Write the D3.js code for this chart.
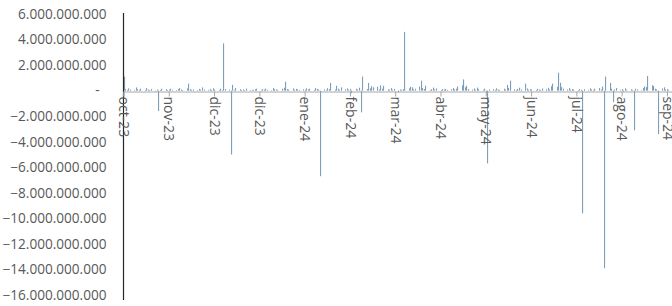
<!DOCTYPE html>
<html>
<head>
<meta charset="utf-8">
<script src="https://cdn.jsdelivr.net/npm/d3@7"></script>
<style>
  body { margin: 0; background: #fff; }
  svg text { font-family: "Open Sans", "Liberation Sans", sans-serif; }
</style>
</head>
<body>
<svg id="chart" width="672" height="306"></svg>
<script>
// daily net flow, millions, one value per business day
var oct23 = [1100, 120, 60, 180, 90, 40, 250, 110, 70, 150, 30, 200, 80, 60, 130, -40, 90, -1600, 60, 150, 110, 40];
var nov23 = [80, 150, 60, 30, 120, 200, 90, 40, 170, 550, 110, 60, 90, 30, 140, 70, 250, 80, 60, 120, 40, 180];
var dic23 = [90, 60, 150, 40, 3700, 120, 80, -5000, 450, 60, 200, 110, 50, 90, 30, 160, 20, 70, 40, 110, 150];
var ene24 = [30, 120, 80, 160, 60, 40, 200, 110, 90, 60, 150, 230, 700, 120, 80, 170, 60, 140, 90, 50, 110, 60, 180];
var feb24 = [90, 150, 60, 210, 130, 80, -6700, 100, 60, 190, 120, 600, 80, 380, 150, 70, 260, 110, 180, 60, 140];
var mar24 = [-200, 150, 80, 230, -1700, 1100, 120, 600, 180, 350, 260, 300, 90, 420, 150, 380, 110, 70, 200, 60, 130];
var abr24 = [-150, 90, 60, 120, 4600, 180, 300, 260, 90, 150, 320, 780, 200, 130, 380, 60, 110, 240, 90, 170, 50, 120];
var may24 = [80, 140, 60, 110, 200, 90, 150, 330, 420, 880, 260, 390, 120, 80, 170, 60, 240, 110, 70, 150, -80, -5700, 90];
var jun24 = [120, 60, 180, 90, 40, 150, 80, 450, 200, 780, 110, 60, 140, 230, 90, 550, 170, 60, 120, 80];
var jul24 = [60, 140, 90, 30, 170, 110, 220, 80, 350, 550, 300, 1400, 620, 280, 150, 90, 200, 60, 130, 80, 50, 110, 70];
var ago24 = [-9600, 120, 60, 180, 90, 40, 150, 200, 80, 320, -13900, 1100, 600, 150, -900, 90, 210, 60, 130, -80, 180, 70];
var sep24 = [110, 60, -3100, 150, 90, 40, 200, 330, 280, 1150, 420, 360, 150, 90, -3400, 170, 260, 80, 120, 60, 140];

var monthStarts = ["2023-10-01","2023-11-01","2023-12-01","2024-01-01","2024-02-01","2024-03-01",
                   "2024-04-01","2024-05-01","2024-06-01","2024-07-01","2024-08-01","2024-09-01"];
var monthValues = [oct23, nov23, dic23, ene24, feb24, mar24, abr24, may24, jun24, jul24, ago24, sep24];

var yTicks = [6e9, 4e9, 2e9, 0, -2e9, -4e9, -6e9, -8e9, -10e9, -12e9, -14e9, -16e9];
var monthNames = ["ene","feb","mar","abr","may","jun","jul","ago","sep","oct","nov","dic"];

var parse = d3.timeParse("%Y-%m-%d");

// lay each month's values onto its weekdays
var data = [];
monthStarts.forEach(function (s, i) {
  var d = parse(s), k = 0, vals = monthValues[i];
  while (k < vals.length) {
    var wd = d.getDay();
    if (wd !== 0 && wd !== 6) {
      data.push({ date: new Date(d), value: vals[k] * 1e6 });
      k++;
    }
    d = d3.timeDay.offset(d, 1);
  }
});

var svg = d3.select("#chart");
var x0 = parse("2023-10-02");

var x = d3.scaleTime()
  .domain([x0, d3.timeDay.offset(x0, 366)])
  .range([123.5, 676]);

var y = d3.scaleLinear()
  .domain([-16e9, 6e9])
  .range([295, 14]);

// bars
svg.append("g").selectAll("rect")
  .data(data)
  .enter()
  .append("rect")
  .attr("x", function (d) { return Math.round(x(d.date)); })
  .attr("width", 1.1)
  .attr("y", function (d) { return Math.min(y(d.value), y(0)); })
  .attr("height", function (d) { return Math.max(0.6, Math.abs(y(d.value) - y(0))); })
  .style("fill", "#7c9fbb");

// y axis
var yAxis = d3.axisLeft(y)
  .tickValues(yTicks)
  .tickSize(0)
  .tickPadding(17)
  .tickFormat(function (v) { return v === 0 ? "-" : d3.format(",")(v).replace(/,/g, "."); });

var gy = svg.append("g")
  .attr("transform", "translate(123.5,0)")
  .call(yAxis);
gy.select(".domain")
  .attr("d", "M0,13V300")
  .attr("stroke", "#262626")
  .attr("stroke-width", 1.2);
gy.selectAll("text")
  .style("font-size", "13.6px")
  .style("fill", "#595959");
gy.selectAll(".tick").filter(function (d) { return d === 0; })
  .select("text").attr("x", -24);

// x axis: every 30 days, Excel-like
var xTicks = d3.range(0, 13).map(function (i) { return d3.timeDay.offset(x0, i * 30); });

var xAxis = d3.axisBottom(x)
  .tickValues(xTicks)
  .tickSizeOuter(0)
  .tickSize(5)
  .tickFormat(function (d) { return monthNames[d.getMonth()] + "-" + d3.timeFormat("%y")(d); });

var gx = svg.append("g")
  .attr("transform", "translate(0," + Math.round(y(0)) + ".5)")
  .call(xAxis);
gx.select(".domain").attr("stroke", "#a6a6a6");
gx.selectAll(".tick line").attr("stroke", "#a6a6a6");
gx.selectAll("text")
  .style("font-size", "14px")
  .style("fill", "#595959")
  .attr("text-anchor", "start")
  .attr("transform", "rotate(90)")
  .attr("x", 5)
  .attr("y", 0)
  .attr("dy", "0.35em");
</script>
</body>
</html>
